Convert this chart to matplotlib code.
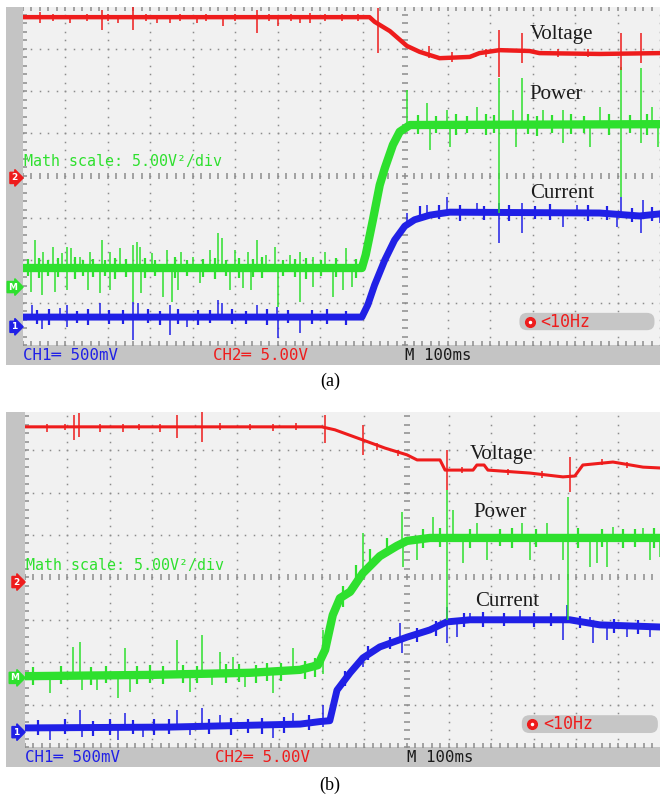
import numpy as np
import matplotlib
matplotlib.use("Agg")
import matplotlib.pyplot as plt
import matplotlib.transforms as mtransforms
from matplotlib.patches import Rectangle, FancyBboxPatch

W, H = 660, 797

RED = '#ee1c1c'
GREEN = '#2ee02e'
BLUE = '#2020e6'
GRID = '#8c8c8c'
SCREEN = '#f1f1f1'
FRAME = '#c4c4c4'

# x in divisions (M 100ms/div), y in divisions

# ---- panel (a) ----
volt_a_x = [0.0, 8.16, 8.28, 8.64, 9.04, 9.34, 9.81, 10.52, 10.75, 11.22, 11.93, 12.16, 13.58, 15.0]
volt_a_y = [7.75, 7.75, 7.64, 7.42, 7.07, 6.93, 6.78, 6.81, 6.90, 6.97, 6.95, 6.90, 6.88, 6.90]
volt_a_spk_x = [0.40, 0.70, 1.11, 1.50, 1.86, 2.00, 2.24, 2.59, 2.90, 3.15, 3.46, 3.70, 4.09, 4.30,
                4.71, 5.00, 5.51, 5.80, 6.00, 6.30, 6.52, 6.75, 7.10, 7.50, 7.90, 8.35,
                9.55, 10.10, 10.90, 11.22, 11.76, 12.60, 13.30, 14.09, 14.56]
volt_a_spk_lo = [7.61, 7.66, 7.61, 7.66, 7.45, 7.66, 7.61, 7.45, 7.66, 7.61, 7.61, 7.66, 7.61, 7.66,
                 7.54, 7.66, 7.38, 7.66, 7.54, 7.66, 7.61, 7.61, 7.66, 7.66, 7.66, 6.90,
                 6.78, 6.70, 6.80, 6.34, 6.67, 6.80, 6.80, 6.50, 6.67]
volt_a_spk_hi = [7.87, 7.83, 7.75, 7.83, 7.92, 7.83, 7.75, 7.99, 7.83, 7.75, 7.80, 7.83, 7.75, 7.83,
                 7.80, 7.83, 7.92, 7.83, 7.75, 7.83, 7.80, 7.85, 7.83, 7.83, 7.83, 7.97,
                 7.06, 6.92, 7.00, 7.45, 7.38, 7.00, 7.00, 7.38, 7.38]

power_a_x = [0.0, 7.98, 8.07, 8.24, 8.40, 8.52, 8.71, 8.87, 9.11, 15.0]
power_a_y = [1.82, 1.82, 2.13, 2.96, 3.78, 4.18, 4.73, 5.04, 5.20, 5.22]
power_a_spk_x = [0.28, 0.48, 0.71, 0.91, 1.03, 1.14, 1.34, 1.58, 1.85, 2.05, 2.28, 2.59, 2.68, 2.75,
                 3.03, 3.38, 3.73, 4.01, 4.40, 4.60, 4.68, 4.99, 5.30, 5.50, 5.73, 5.93, 6.28,
                 6.52, 6.83, 7.10, 7.60,
                 0.20, 0.44, 0.75, 1.03, 1.54, 1.81, 2.05, 2.59, 2.79, 3.30, 3.50, 3.65, 4.16,
                 4.87, 5.18, 5.38, 6.01, 6.52, 6.83, 7.29, 7.53, 7.74,
                 9.04, 9.51, 9.98, 10.68, 11.53, 11.76, 12.24, 12.71, 13.58, 14.56, 14.82,
                 9.58, 10.05, 11.62, 12.71, 13.34, 14.56, 14.95,
                 11.22, 14.09]
power_a_spk_lo = [1.82] * 31 + \
                 [1.26, 1.18, 1.26, 1.30, 1.30, 1.22, 1.30, 1.02, 1.22, 1.14, 1.02, 1.30, 1.46,
                  1.30, 1.34, 1.30, 0.91, 1.02, 1.38, 1.13, 1.30, 1.37] + \
                 [5.20] * 11 + \
                 [4.61, 4.68, 4.68, 4.78, 4.68, 4.78, 4.68] + \
                 [3.12, 3.50]
power_a_spk_hi = [2.48, 2.21, 2.32, 2.17, 2.32, 2.29, 2.09, 2.21, 2.48, 2.21, 2.29, 2.36, 2.44, 2.32,
                  2.17, 2.25, 2.21, 2.09, 2.25, 2.64, 2.52, 2.25, 2.21, 2.48, 2.13, 2.32, 2.13,
                  2.21, 2.09, 2.20, 2.30] + \
                 [1.82] * 22 + \
                 [6.03, 5.72, 5.56, 5.63, 5.56, 6.31, 5.56, 5.56, 5.63, 6.55, 5.63] + \
                 [5.20] * 7 + \
                 [6.31, 6.57]
# short noise around the band
power_a_fuzz_x = [0.12, 0.37, 0.58, 0.83, 1.22, 1.41, 1.66, 1.94, 2.17, 2.43, 2.88, 3.12, 3.57,
                  3.86, 4.25, 4.52, 4.79, 5.08, 5.42, 5.62, 6.12, 6.40, 6.67, 7.02, 7.38, 7.85,
                  9.30, 9.72, 10.20, 10.45, 10.90, 11.10, 11.90, 12.10, 12.45, 12.90, 13.20,
                  13.80, 14.30, 14.70]
power_a_fuzz_lo = [1.62, 1.58, 1.64, 1.60, 1.57, 1.63, 1.60, 1.62, 1.56, 1.61, 1.59, 1.64, 1.58,
                   1.62, 1.60, 1.57, 1.63, 1.59, 1.61, 1.58, 1.62, 1.60, 1.56, 1.63, 1.60, 1.59,
                   4.98, 5.00, 4.96, 5.01, 4.97, 5.02, 4.99, 4.95, 5.00, 4.98, 5.01, 4.97, 5.00, 4.96]
power_a_fuzz_hi = [2.03, 2.06, 2.01, 2.05, 2.07, 2.02, 2.04, 2.00, 2.06, 2.03, 2.05, 2.01, 2.07,
                   2.02, 2.04, 2.06, 2.01, 2.05, 2.03, 2.07, 2.02, 2.04, 2.06, 2.01, 2.05, 2.03,
                   5.44, 5.42, 5.46, 5.41, 5.45, 5.43, 5.47, 5.42, 5.44, 5.46, 5.41, 5.45, 5.43, 5.46]

current_a_x = [0.0, 7.98, 8.12, 8.28, 8.52, 8.75, 8.99, 9.22, 9.58, 10.05, 13.58, 14.52, 15.0]
current_a_y = [0.66, 0.66, 0.95, 1.42, 2.01, 2.48, 2.81, 2.96, 3.07, 3.14, 3.12, 3.05, 3.10]
current_a_spk_x = [0.21, 0.87, 1.04, 1.81, 2.59, 2.71, 3.46, 4.59, 4.68, 5.51, 5.98,
                   0.45, 1.04, 2.59, 3.46, 3.86, 6.00, 6.52,
                   9.51, 9.98, 10.68, 11.22, 11.76, 13.04, 14.09, 14.59,
                   9.04, 11.22, 11.76, 12.71, 13.98, 14.56, 14.99]
current_a_spk_lo = [0.66] * 11 + [0.39, 0.43, 0.12, 0.24, 0.43, 0.16, 0.28] + \
                   [3.12] * 8 + [2.79, 2.41, 2.65, 2.79, 2.79, 2.65, 2.88]
current_a_spk_hi = [0.95, 0.87, 0.95, 0.99, 1.02, 0.99, 0.95, 1.06, 0.99, 0.95, 0.91] + [0.66] * 7 + \
                   [3.31, 3.50, 3.36, 3.36, 3.36, 3.31, 3.50, 3.43] + [3.12] * 7
current_a_fuzz_x = [0.33, 0.62, 1.27, 1.52, 2.02, 2.36, 2.95, 3.22, 3.66, 4.12, 4.40, 4.93, 5.24,
                    5.75, 6.25, 6.80, 7.15, 7.60, 9.35, 9.80, 10.30, 10.85, 11.45, 12.05,
                    12.40, 13.30, 13.75, 14.35, 14.80]
current_a_fuzz_lo = [0.50, 0.48, 0.51, 0.47, 0.50, 0.49, 0.52, 0.48, 0.50, 0.47, 0.51, 0.49, 0.50,
                     0.48, 0.51, 0.49, 0.50, 0.48, 2.95, 2.97, 2.94, 2.96, 2.93, 2.97, 2.95,
                     2.94, 2.96, 2.90, 2.93]
current_a_fuzz_hi = [0.82, 0.84, 0.81, 0.85, 0.83, 0.82, 0.84, 0.81, 0.85, 0.83, 0.82, 0.84, 0.81,
                     0.85, 0.83, 0.82, 0.84, 0.81, 3.29, 3.32, 3.30, 3.28, 3.31, 3.29, 3.33,
                     3.30, 3.28, 3.24, 3.27]

# ---- panel (b) ----
volt_b_x = [0.0, 7.00, 7.31, 7.97, 8.49, 9.01, 9.25, 9.79, 9.91, 10.57, 10.66, 10.83, 10.92,
            11.91, 12.69, 12.97, 13.16, 13.87, 14.58, 14.98]
volt_b_y = [7.55, 7.55, 7.48, 7.24, 7.05, 6.89, 6.77, 6.77, 6.53, 6.53, 6.65, 6.65, 6.53,
            6.46, 6.37, 6.39, 6.65, 6.72, 6.60, 6.58]
volt_b_spk_x = [0.52, 1.16, 1.27, 1.77, 2.31, 3.18, 3.58, 4.17, 5.85, 7.08, 7.97, 9.95, 12.85,
                0.95, 2.70, 4.60, 5.30, 6.40, 8.30, 8.80, 10.30, 11.40, 12.20, 13.60, 14.20]
volt_b_spk_lo = [7.43, 7.24, 7.31, 7.43, 7.43, 7.43, 7.29, 7.19, 7.45, 7.17, 6.89, 6.06, 6.01,
                 7.48, 7.48, 7.47, 7.48, 7.47, 7.00, 6.86, 6.47, 6.42, 6.35, 6.64, 6.58]
volt_b_spk_hi = [7.62, 7.83, 7.88, 7.62, 7.62, 7.62, 7.83, 7.90, 7.62, 7.83, 7.59, 7.00, 6.84,
                 7.62, 7.62, 7.63, 7.62, 7.63, 7.16, 7.00, 6.60, 6.56, 6.50, 6.80, 6.72]

power_b_x = [0.0, 2.95, 5.31, 6.49, 6.91, 7.08, 7.26, 7.43, 7.67, 7.97, 8.37, 8.77, 9.01, 9.55, 14.98]
power_b_y = [1.67, 1.70, 1.75, 1.82, 1.93, 2.29, 3.11, 3.51, 3.66, 4.10, 4.50, 4.74, 4.86, 4.93, 4.93]
power_b_spk_x = [1.13, 1.30, 2.36, 3.58, 4.17, 4.60, 4.91, 6.32, 7.03,
                 0.59, 1.34, 1.70, 2.19, 2.48, 3.89, 4.41, 5.19, 5.85,
                 7.97, 8.89, 9.62, 10.09, 10.66, 11.72, 12.31, 13.87, 14.58,
                 8.92, 9.25, 10.33, 10.90, 11.91, 12.69, 13.33, 13.49, 13.73, 14.74, 14.98,
                 9.95, 12.81]
power_b_spk_lo = [1.72] * 9 + [1.27, 1.34, 1.34, 1.16, 1.30, 1.30, 1.46, 1.42, 1.27] + \
                 [4.10, 4.86, 4.93, 4.93, 4.93, 4.93, 4.93, 4.93, 4.93] + \
                 [4.25, 4.41, 4.34, 4.41, 4.41, 4.41, 4.25, 4.34, 4.25, 4.41, 4.48] + \
                 [3.00, 3.00]
power_b_spk_hi = [2.36, 2.48, 2.33, 2.52, 2.64, 2.24, 2.12, 2.33, 2.76] + [1.72] * 9 + \
                 [5.05, 5.54, 5.42, 5.59, 5.28, 5.28, 5.28, 5.19, 5.17] + \
                 [4.86, 4.93, 4.93, 4.93, 4.93, 4.93, 4.93, 4.93, 4.93, 4.93, 4.93] + \
                 [6.06, 5.90]
power_b_fuzz_x = [0.20, 0.85, 1.55, 1.92, 2.65, 2.95, 3.25, 3.72, 4.05, 4.75, 5.05, 5.45, 5.70,
                  6.05, 6.60, 6.85, 7.50, 7.80, 8.15, 8.55, 9.40, 9.80, 10.50, 11.20, 11.50,
                  12.05, 13.05, 13.60, 14.10, 14.40, 14.85]
power_b_fuzz_lo = [1.47, 1.49, 1.46, 1.50, 1.48, 1.51, 1.49, 1.50, 1.52, 1.51, 1.54, 1.52, 1.55,
                   1.56, 1.60, 1.66, 3.30, 3.85, 4.25, 4.50, 4.70, 4.72, 4.70, 4.73, 4.69,
                   4.72, 4.70, 4.71, 4.69, 4.72, 4.70]
power_b_fuzz_hi = [1.88, 1.91, 1.89, 1.92, 1.90, 1.93, 1.91, 1.94, 1.92, 1.95, 1.96, 1.94, 1.97,
                   1.99, 2.02, 2.10, 3.80, 4.30, 4.68, 4.92, 5.14, 5.16, 5.13, 5.15, 5.17,
                   5.14, 5.16, 5.13, 5.15, 5.14, 5.16]

current_b_x = [0.0, 3.42, 6.49, 6.96, 7.19, 7.36, 7.67, 7.97, 8.37, 9.01, 9.55, 9.95, 10.50,
               12.85, 13.56, 14.98]
current_b_y = [0.45, 0.47, 0.54, 0.60, 0.62, 1.34, 1.75, 2.10, 2.36, 2.59, 2.76, 2.95, 3.00,
               3.00, 2.88, 2.83]
current_b_spk_x = [1.30, 2.36, 3.58, 4.17, 4.60, 6.32, 7.03,
                   0.59, 1.34, 2.19, 2.78, 3.89, 5.85,
                   8.84, 9.95, 10.50, 11.67, 12.78, 13.33,
                   7.97, 8.89, 9.95, 10.19, 12.69, 13.40, 13.73, 14.20, 14.74]
current_b_spk_lo = [0.47] * 7 + [0.17, 0.24, 0.17, 0.24, 0.28, 0.21] + \
                   [2.55, 2.95, 3.00, 3.00, 3.00, 2.90] + \
                   [1.89, 2.22, 2.45, 2.59, 2.52, 2.45, 2.52, 2.59, 2.59]
current_b_spk_hi = [0.87, 0.80, 0.87, 0.92, 0.75, 0.80, 0.99] + [0.47] * 6 + \
                   [2.92, 3.30, 3.16, 3.23, 3.35, 3.07] + \
                   [2.10, 2.55, 2.95, 2.98, 3.00, 2.90, 2.88, 2.86, 2.84]
current_b_fuzz_x = [0.30, 0.95, 1.60, 2.00, 2.55, 3.05, 3.40, 4.35, 4.85, 5.25, 5.60, 6.10, 6.70,
                    7.55, 8.10, 8.60, 9.25, 9.70, 10.35, 10.80, 11.30, 12.00, 12.40, 13.10,
                    13.90, 14.45]
current_b_fuzz_lo = [0.28, 0.30, 0.27, 0.29, 0.31, 0.28, 0.30, 0.31, 0.29, 0.32, 0.30, 0.33, 0.40,
                     1.45, 2.05, 2.30, 2.48, 2.62, 2.84, 2.84, 2.86, 2.83, 2.85, 2.80, 2.70, 2.67]
current_b_fuzz_hi = [0.63, 0.65, 0.62, 0.66, 0.64, 0.67, 0.65, 0.66, 0.68, 0.66, 0.69, 0.70, 0.76,
                     1.80, 2.38, 2.60, 2.80, 2.96, 3.16, 3.18, 3.15, 3.17, 3.16, 3.10, 3.02, 2.99]

# labels and scope read-outs
trace_names = ['Voltage', 'Power', 'Current']
math_text = 'Math scale: 5.00V\u00b2/div'
ch1_text = 'CH1\u2550 500mV'
ch2_text = 'CH2\u2550 5.00V'
time_text = 'M 100ms'
freq_text = '<10Hz'
captions = ['(a)', '(b)']


def fig_rect(x0, y0, x1, y1):
    # pixel box -> figure fraction [left, bottom, width, height]
    return [x0 / W, 1 - y1 / H, (x1 - x0) / W, (y1 - y0) / H]


def px(x, y):
    return x / W, 1 - y / H


def make_screen(fig, frame_box, screen_box, xmax, ymax):
    l, b, w, h = fig_rect(*frame_box)
    fig.add_artist(Rectangle((l, b), w, h, transform=fig.transFigure,
                             facecolor=FRAME, edgecolor='none', zorder=0))
    ax = fig.add_axes(fig_rect(*screen_box))
    ax.set_facecolor(SCREEN)
    ax.set_xlim(0, xmax)
    ax.set_ylim(0, ymax)
    ax.set_xticks([])
    ax.set_yticks([])
    for s in ax.spines.values():
        s.set_visible(False)

    # dotted graticule
    ys = np.arange(0, ymax, 0.2)
    xs = np.arange(0, xmax, 0.2)
    for k in range(1, int(xmax) + 1):
        if k == 9:
            continue
        ax.plot(np.full_like(ys, k), ys, ls='none', marker='s', ms=1.1, mec='none', mfc=GRID, zorder=1)
    for k in range(1, 8):
        if k == 4:
            continue
        ax.plot(xs, np.full_like(xs, k), ls='none', marker='s', ms=1.1, mec='none', mfc=GRID, zorder=1)
    # centre axes and border ticks
    ax.plot(np.full_like(ys, 9), ys, ls='none', marker='_', ms=4, mew=1.1, color=GRID, zorder=1)
    ax.plot(xs, np.full_like(xs, 4), ls='none', marker='|', ms=4, mew=1.1, color=GRID, zorder=1)
    ax.plot(np.zeros_like(ys), ys, ls='none', marker='_', ms=6, mew=1.1, color=GRID, zorder=1)
    ax.plot(xs, np.zeros_like(xs), ls='none', marker='|', ms=6, mew=1.1, color=GRID, zorder=1)
    ax.plot(xs, np.full_like(xs, 8), ls='none', marker='|', ms=6, mew=1.1, color=GRID, zorder=1)
    return ax


def draw_trace(ax, x, y, sx, slo, shi, color, lw, fuzz=None):
    ax.vlines(sx, slo, shi, color=color, lw=1.1, zorder=3)
    if fuzz is not None:
        ax.vlines(fuzz[0], fuzz[1], fuzz[2], color=color, lw=1.6, zorder=3)
    ax.plot(x, y, color=color, lw=lw, solid_joinstyle='round', zorder=3)


def draw_overlay(ax, label_pos, markers, math_y, box):
    for name, (lx, ly) in zip(trace_names, label_pos):
        ax.text(lx, ly, name, family='Liberation Serif', fontsize=15, color='#1c1c1c',
                ha='left', va='center', zorder=5)
    ax.text(0.02, math_y, math_text, family='DejaVu Sans Mono', fontsize=10.8, color=GREEN,
            ha='left', va='center', zorder=5)
    trans = mtransforms.blended_transform_factory(ax.transAxes, ax.transData)
    for lab, my, c in markers:
        ax.text(-0.009, my, lab, transform=trans, fontsize=6.5, fontweight='bold', color='white',
                ha='right', va='center', clip_on=False, zorder=6,
                bbox=dict(boxstyle='rarrow,pad=0.12', fc=c, ec=c))
    x0, y0, x1, y1 = box
    ax.add_patch(FancyBboxPatch((x0, y0), x1 - x0, y1 - y0, boxstyle='round,pad=0,rounding_size=0.18',
                                fc='#c6c6c6', ec='none', zorder=4))
    ax.plot(x0 + 0.25, (y0 + y1) / 2, marker='o', ms=7, color=RED, zorder=5)
    ax.plot(x0 + 0.25, (y0 + y1) / 2, marker='.', ms=3, color='white', zorder=6)
    ax.text(x0 + 0.5, (y0 + y1) / 2, freq_text, family='DejaVu Sans Mono', fontsize=12,
            color=RED, ha='left', va='center', zorder=5)


def status_bar(fig, ypix, x_offset):
    fig.text(*px(23 + x_offset, ypix), ch1_text, family='DejaVu Sans Mono', fontsize=11.3,
             color=BLUE, ha='left', va='center')
    fig.text(*px(213 + x_offset, ypix), ch2_text, family='DejaVu Sans Mono', fontsize=11.3,
             color=RED, ha='left', va='center')
    fig.text(*px(405 + x_offset, ypix), time_text, family='DejaVu Sans Mono', fontsize=11.3,
             color='#1a1a1a', ha='left', va='center')


def main():
    fig = plt.figure(figsize=(W / 100, H / 100), dpi=100)
    fig.patch.set_facecolor('white')

    # (a)
    ax_a = make_screen(fig, (6, 7, 660, 365), (23, 7, 660, 345), 15.0, 7.99)
    draw_trace(ax_a, current_a_x, current_a_y, current_a_spk_x, current_a_spk_lo, current_a_spk_hi, BLUE, 5,
               (current_a_fuzz_x, current_a_fuzz_lo, current_a_fuzz_hi))
    draw_trace(ax_a, power_a_x, power_a_y, power_a_spk_x, power_a_spk_lo, power_a_spk_hi, GREEN, 6,
               (power_a_fuzz_x, power_a_fuzz_lo, power_a_fuzz_hi))
    draw_trace(ax_a, volt_a_x, volt_a_y, volt_a_spk_x, volt_a_spk_lo, volt_a_spk_hi, RED, 3.2)
    draw_overlay(ax_a, [(11.93, 7.33), (11.93, 5.91), (11.93, 3.59)],
                 [('2', 3.95, RED), ('M', 1.37, GREEN), ('1', 0.43, BLUE)],
                 4.33, (11.69, 0.35, 14.87, 0.76))
    status_bar(fig, 355, 0)
    fig.text(*px(330, 381), captions[0], family='Liberation Serif', fontsize=13, ha='center', va='center')

    # (b)
    ax_b = make_screen(fig, (6, 412, 660, 767), (25, 412, 660, 747), 14.98, 7.90)
    draw_trace(ax_b, current_b_x, current_b_y, current_b_spk_x, current_b_spk_lo, current_b_spk_hi, BLUE, 5,
               (current_b_fuzz_x, current_b_fuzz_lo, current_b_fuzz_hi))
    draw_trace(ax_b, power_b_x, power_b_y, power_b_spk_x, power_b_spk_lo, power_b_spk_hi, GREEN, 6,
               (power_b_fuzz_x, power_b_fuzz_lo, power_b_fuzz_hi))
    draw_trace(ax_b, volt_b_x, volt_b_y, volt_b_spk_x, volt_b_spk_lo, volt_b_spk_hi, RED, 2.2)
    draw_overlay(ax_b, [(10.5, 6.89), (10.57, 5.52), (10.61, 3.44)],
                 [('2', 3.89, RED), ('M', 1.63, GREEN), ('1', 0.35, BLUE)],
                 4.29, (11.72, 0.33, 14.93, 0.75))
    status_bar(fig, 758, 2)
    fig.text(*px(330, 785), captions[1], family='Liberation Serif', fontsize=13, ha='center', va='center')

    fig.savefig('out.png', dpi=100)


if __name__ == "__main__":
    main()
